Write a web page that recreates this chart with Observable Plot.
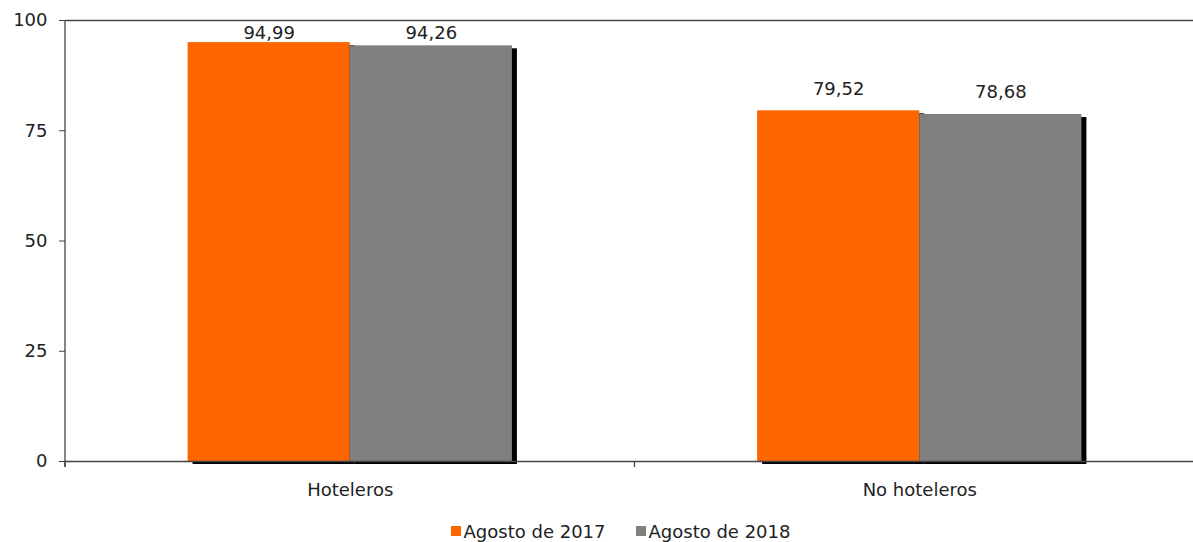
<!DOCTYPE html>
<html><head><meta charset="utf-8">
<script src="https://cdn.jsdelivr.net/npm/d3@7"></script>
<script src="https://cdn.jsdelivr.net/npm/@observablehq/plot@0.6"></script>
<style>
body{margin:0;background:#fff;font-family:"DejaVu Sans",sans-serif;}
#legend{display:flex;justify-content:center;align-items:center;height:62px;font-size:18px;color:#222;gap:30px;padding-left:48px;}
#legend .item{display:flex;align-items:center;}
#legend .sw{width:10px;height:10px;margin-right:3px;display:inline-block;}
</style></head><body><div id="chart"></div><div id="legend"></div>
<script>
const categories = ["Hoteleros", "No hoteleros"];
const series = ["Agosto de 2017", "Agosto de 2018"];
const values2017 = [94.99, 79.52];
const values2018 = [94.26, 78.68];
const yTicks = [0, 25, 50, 75, 100];
const colors = ["#FF6600", "#808080"];

const data = categories.flatMap((c, i) => [
  {category: c, series: series[0], value: values2017[i]},
  {category: c, series: series[1], value: values2018[i]}
]);
const fmt = v => v.toFixed(2).replace(".", ",");

const plot = Plot.plot({
  width: 1193, height: 500,
  marginTop: 20, marginBottom: 39, marginLeft: 65, marginRight: -11,
  style: {fontFamily: "DejaVu Sans", fontSize: "18px", color: "#222", background: "#fff"},
  fx: {domain: categories, padding: 0, label: null, round: false},
  x: {domain: series, paddingInner: 0, paddingOuter: 0.756, axis: null, round: false},
  y: {domain: [0, 100], ticks: yTicks, label: null},
  color: {domain: series, range: colors},
  marks: [
    Plot.barY(data, {fx: "category", x: "series", y: "value", fill: "black", dx: 5, dy: 3}),
    Plot.barY(data, {fx: "category", x: "series", y: "value", fill: "series"}),
    Plot.ruleY([0, 100], {stroke: "#444", strokeWidth: 1.3}),
    Plot.axisY({ticks: yTicks, tickSize: 6, tickPadding: 12, stroke: "#444", label: null}),
    Plot.axisFx({anchor: "bottom", tickSize: 0, tickPadding: 22, label: null}),
    Plot.text(data, {fx: "category", x: "series", y: d => Math.min(d.value + 5, 97), text: d => fmt(d.value), fill: "#222"})
  ]
});
document.getElementById("chart").appendChild(plot);

// left axis line and category boundary ticks, positioned from Plot's own scales
const svg = d3.select(plot);
const fxS = plot.scale("fx"), yS = plot.scale("y");
const y0 = yS.apply(0), y100 = yS.apply(100);
const xLeft = fxS.apply(categories[0]);
svg.append("line").attr("x1", xLeft).attr("x2", xLeft).attr("y1", y100).attr("y2", y0 + 6)
  .attr("stroke", "#444").attr("stroke-width", 1.3);
categories.forEach(c => {
  const x = fxS.apply(c);
  svg.append("line").attr("x1", x).attr("x2", x).attr("y1", y0).attr("y2", y0 + 6)
    .attr("stroke", "#444").attr("stroke-width", 1.3);
});

// legend
const legend = document.getElementById("legend");
series.forEach((s, i) => {
  const item = document.createElement("div");
  item.className = "item";
  item.innerHTML = `<span class="sw" style="background:${colors[i]}"></span><span>${s}</span>`;
  legend.appendChild(item);
});
</script>
</body></html>
